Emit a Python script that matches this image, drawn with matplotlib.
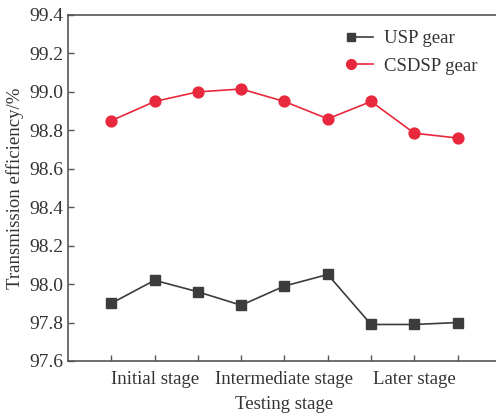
import matplotlib
matplotlib.use("Agg")
import matplotlib.pyplot as plt
from matplotlib.legend_handler import HandlerBase
from matplotlib.lines import Line2D

x_pos = [1, 2, 3, 4, 5, 6, 7, 8, 9]
usp = [97.90, 98.02, 97.96, 97.89, 97.99, 98.05, 97.79, 97.79, 97.80]
csdsp = [98.85, 98.95, 99.00, 99.015, 98.95, 98.86, 98.95, 98.785, 98.76]
xtick_pos = [2, 5, 8]
xtick_labels = ["Initial stage", "Intermediate stage", "Later stage"]
yticks = [97.6, 97.8, 98.0, 98.2, 98.4, 98.6, 98.8, 99.0, 99.2, 99.4]

plt.rcParams['font.family'] = ['Liberation Serif', 'DejaVu Serif']


class LeftMarkerHandler(HandlerBase):
    def create_artists(self, legend, orig_handle, xdescent, ydescent, width, height,
                       fontsize, trans):
        yc = height / 2 - ydescent
        x0 = -xdescent
        line = Line2D([x0, x0 + width], [yc, yc], color=orig_handle.get_color(),
                      linewidth=orig_handle.get_linewidth())
        mk = Line2D([x0], [yc], linestyle='none', marker=orig_handle.get_marker(),
                    markersize=orig_handle.get_markersize() * 0.9, color=orig_handle.get_color())
        line.set_transform(trans)
        mk.set_transform(trans)
        return [line, mk]


fig = plt.figure(figsize=(4.96, 4.16), dpi=100)
ax = fig.add_axes([68/496, 1 - 361/416, (496 - 68)/496 + 0.01, (361 - 15)/416])

l1, = ax.plot(x_pos, usp, color='#3c3c3c', marker='s', markersize=6.8, linewidth=1.2, label='USP gear')
l2, = ax.plot(x_pos, csdsp, color='#e8283c', marker='o', markersize=7.8, linewidth=1.2, label='CSDSP gear')

ax.set_xlim(0, 10)
ax.set_ylim(97.6, 99.4)
ax.set_yticks(yticks)
ax.set_yticklabels([f"{v:.1f}" for v in yticks], fontsize=14, color='#333333')
ax.set_xticks(x_pos)
ax.set_xticklabels([xtick_labels[xtick_pos.index(p)] if p in xtick_pos else "" for p in x_pos],
                   fontsize=13.5, color='#333333')
ax.tick_params(axis='both', direction='in', length=4, width=1, color='#555555')
ax.tick_params(axis='x', pad=7)
ax.tick_params(axis='y', pad=3)

for s in ['left', 'bottom', 'top']:
    ax.spines[s].set_color('#555555')
    ax.spines[s].set_linewidth(1.2)
ax.spines['right'].set_visible(False)

ax.set_xlabel("Testing stage", fontsize=13.5, color='#333333', labelpad=6)
ax.set_ylabel("Transmission efficiency/%", fontsize=13.5, color='#333333', labelpad=4)

leg = ax.legend(handles=[l1, l2], loc='upper left', bbox_to_anchor=(0.62, 1.0), frameon=False,
                fontsize=13.5, handlelength=1.15, handletextpad=0.6, labelspacing=0.55,
                borderaxespad=0.4,
                handler_map={l1: LeftMarkerHandler(), l2: LeftMarkerHandler()})
for t in leg.get_texts():
    t.set_color('#333333')

fig.savefig("out.png", dpi=100)
